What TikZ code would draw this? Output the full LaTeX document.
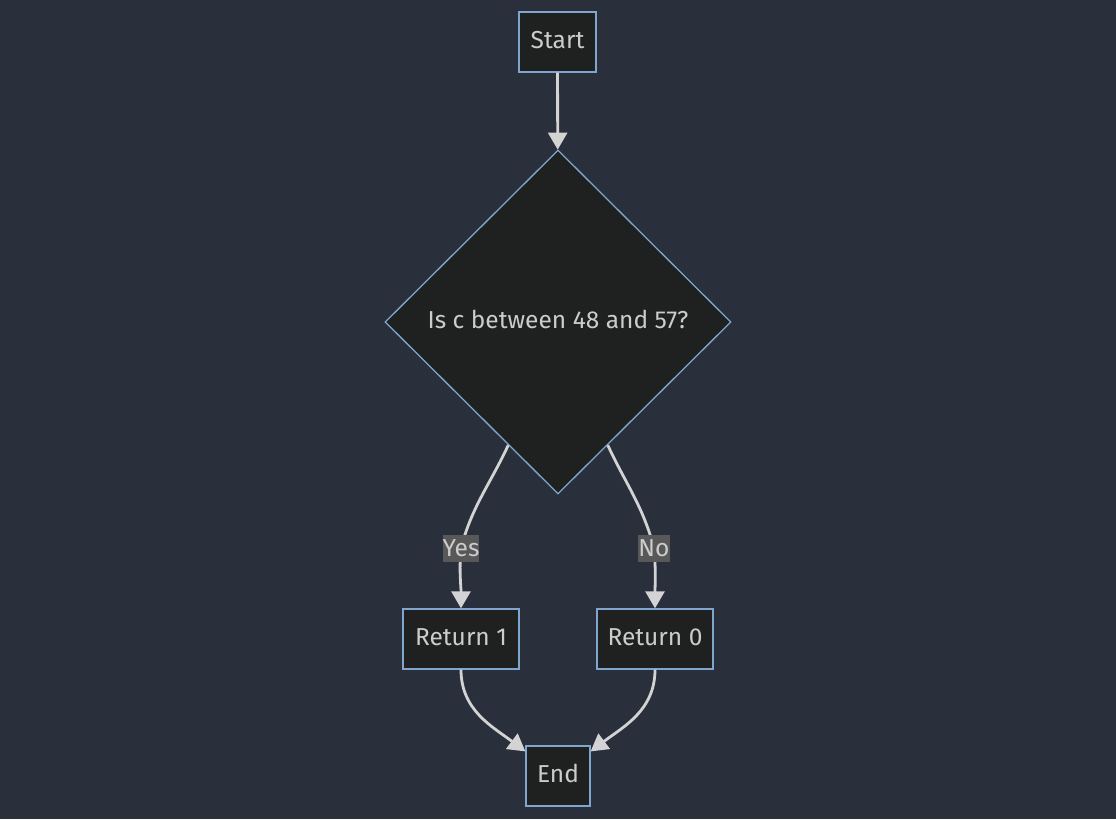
\documentclass[tikz,border=0pt]{standalone}
\usepackage{fontspec}
\setmainfont{Fira Sans}
\usetikzlibrary{shapes.geometric,arrows.meta}
\definecolor{bgcol}{HTML}{2A2F3C}
\definecolor{nodefill}{HTML}{1F2020}
\definecolor{nodeline}{HTML}{7FA6CF}
\definecolor{txtcol}{HTML}{CCCCCC}
\definecolor{edgecol}{HTML}{D3D3D3}
\definecolor{lblfill}{HTML}{585858}
\begin{document}
\begin{tikzpicture}[x=1pt,y=1pt,font=\fontsize{24.5}{29}\selectfont,
    box/.style={draw=nodeline,fill=nodefill,text=txtcol,line width=1.3pt,minimum height=60pt,inner sep=0pt,text height=18pt,text depth=6pt},
    decision/.style={diamond,draw=nodeline,fill=nodefill,text=txtcol,line width=1.3pt,minimum width=346pt,minimum height=344pt,inner sep=0pt,text height=18pt,text depth=6pt},
    edge/.style={draw=edgecol,line width=2.8pt,-{Triangle[length=17pt,width=19pt]}},
    lbl/.style={fill=lblfill,text=txtcol,inner xsep=0pt,inner ysep=0pt,minimum height=27pt}]
    \fill[bgcol] (0,0) rectangle (1116,-819);
    \useasboundingbox (0,0) rectangle (1116,-819);
    % nodes
    \node [box,minimum width=77pt] (start) at (557.5,-42) {Start};
    \node [decision] (check) at (558,-322) {Is c between 48 and 57?};
    \node [box,minimum width=116pt] (ret1) at (461,-639) {Return 1};
    \node [box,minimum width=116pt] (ret0) at (655,-639) {Return 0};
    \node [box,minimum width=64pt] (finish) at (558,-776) {End};
    \coordinate (yespt) at (461,-548);
    \coordinate (nopt) at (654,-548);
    % edges
    \draw [edge] (start) -- (check);
    \draw [edge] (check.-112) to[out=-115,in=75] (yespt) to[out=-95,in=90] (ret1.north);
    \draw [edge] (check.-68) to[out=-65,in=105] (nopt) to[out=-85,in=90] (ret0.north);
    \draw [edge] (ret1.south) to[out=-90,in=143] (finish.143);
    \draw [edge] (ret0.south) to[out=-90,in=37] (finish.37);
    % edge labels
    \node [lbl] (yes) at (yespt) {Yes};
    \node [lbl] (no) at (nopt) {No};
\end{tikzpicture}
\end{document}
